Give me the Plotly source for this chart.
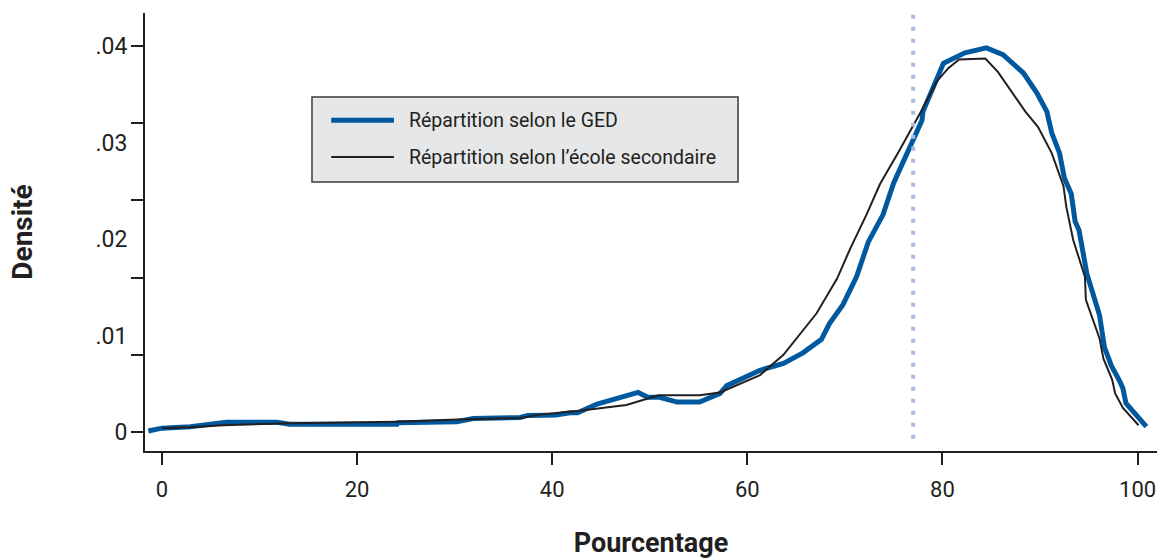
import plotly.graph_objects as go

# Densité des pourcentages : GED vs école secondaire
ged_x = [-1.4, 0, 2.9, 6.6, 11.8, 13.1, 24.1, 24.2, 30.2, 31.9, 36.7, 37.5, 40.4, 41.8, 42.6,
         44.6, 48.8, 49.8, 51.0, 52.8, 55.1, 57.2, 57.9, 60.3, 61.3, 63.7, 65.7, 67.6, 68.4,
         69.8, 71.2, 72.4, 73.9, 75.0, 76.6, 77.9, 78.0, 79.1, 80.1, 82.3, 84.5, 86.2, 88.3,
         89.7, 90.7, 91.2, 92.0, 92.5, 93.2, 93.6, 94.0, 94.8, 95.5, 96.1, 96.6, 97.3, 98.2,
         98.5, 98.8, 100.9]
ged_y = [0.0001, 0.0004, 0.00055, 0.0010, 0.0010, 0.0008, 0.0008, 0.00095, 0.00107, 0.0014,
         0.0015, 0.00172, 0.00176, 0.0020, 0.0020, 0.0029, 0.0041, 0.0036, 0.0036, 0.0031,
         0.0031, 0.0040, 0.0048, 0.0059, 0.0064, 0.0071, 0.0082, 0.0096, 0.0112, 0.0132,
         0.0161, 0.0197, 0.0225, 0.0258, 0.0293, 0.0323, 0.0332, 0.0360, 0.0382, 0.0393,
         0.0398, 0.0391, 0.0372, 0.0351, 0.0332, 0.0310, 0.0289, 0.0263, 0.0247, 0.0218,
         0.0209, 0.0164, 0.0140, 0.0121, 0.0088, 0.0069, 0.0052, 0.0045, 0.0030, 0.00055]

sec_x = [0, 2.9, 6.3, 13.1, 24.1, 30.2, 36.7, 38.7, 42.8, 47.6, 50.9, 55.1, 57.2, 61.3, 63.7,
         65.4, 67.1, 69.2, 70.5, 72.2, 73.6, 75.6, 77.9, 79.4, 80.6, 81.7, 84.4, 85.7, 87.1,
         88.5, 89.8, 91.2, 92.4, 92.7, 93.4, 94.6, 94.7, 96.1, 96.5, 97.4, 97.7, 98.5, 100.1]
sec_y = [0.0004, 0.0005, 0.0007, 0.0009, 0.00107, 0.0013, 0.00145, 0.0018, 0.0022, 0.0028,
         0.0038, 0.0038, 0.0041, 0.0059, 0.0080, 0.0102, 0.0123, 0.0159, 0.0189, 0.0225,
         0.0257, 0.0292, 0.0334, 0.0363, 0.0377, 0.0386, 0.0387, 0.0373, 0.0353, 0.0332,
         0.0316, 0.0289, 0.0255, 0.0233, 0.0199, 0.0161, 0.0137, 0.0097, 0.0076, 0.0054,
         0.0040, 0.0025, 0.0007]

seuil_x = 77  # ligne pointillée verticale

y_tick_marks = [0, 0.008, 0.016, 0.024, 0.032, 0.04]
y_label_vals = [0, 0.01, 0.02, 0.03, 0.04]
y_label_text = ["0", ".01", ".02", ".03", ".04"]
x_ticks = [0, 20, 40, 60, 80, 100]

legend_labels = ["Répartition selon le GED", "Répartition selon l’école secondaire"]

BLUE = "#00599e"
INK = "#231f20"
FONT = "Roboto, Liberation Sans, sans-serif"

x_range = [-1.74, 101.99]
y_range = [-0.00197, 0.04342]

fig = go.Figure()

fig.add_trace(go.Scatter(x=ged_x, y=ged_y, mode="lines", name=legend_labels[0],
                         line=dict(color=BLUE, width=5), showlegend=False))
fig.add_trace(go.Scatter(x=sec_x, y=sec_y, mode="lines", name=legend_labels[1],
                         line=dict(color=INK, width=2), showlegend=False))
# vertical dotted line, on the label axis
fig.add_trace(go.Scatter(x=[seuil_x, seuil_x], y=[-0.0007, y_range[1]], mode="lines",
                         yaxis="y2", line=dict(color="#a9bbdf", width=4, dash="4px,8px"),
                         showlegend=False, hoverinfo="skip"))

# hand-made legend box
fig.add_shape(type="rect", xref="paper", yref="paper", x0=0.165, x1=0.586, y0=0.614, y1=0.808,
              fillcolor="#e6e7e8", line=dict(color="#3a3a3a", width=1.5), layer="above")
fig.add_shape(type="line", xref="paper", yref="paper", x0=0.184, x1=0.246, y0=0.755, y1=0.755,
              line=dict(color=BLUE, width=5), layer="above")
fig.add_shape(type="line", xref="paper", yref="paper", x0=0.184, x1=0.246, y0=0.671, y1=0.671,
              line=dict(color=INK, width=2), layer="above")
for txt, yy in zip(legend_labels, [0.755, 0.671]):
    fig.add_annotation(text=txt, xref="paper", yref="paper", x=0.259, y=yy,
                       xanchor="left", yanchor="middle", showarrow=False,
                       font=dict(family=FONT, size=19.5, color=INK))

fig.update_layout(
    width=1159, height=559,
    margin=dict(l=145, r=2, t=13, b=108),
    plot_bgcolor="white", paper_bgcolor="white",
    font=dict(family=FONT, color=INK),
    xaxis=dict(range=x_range, tickvals=x_ticks, ticks="outside", ticklen=12, tickwidth=1.5,
               tickcolor=INK, showline=True, linecolor=INK, linewidth=1.5, showgrid=False,
               zeroline=False, tickfont=dict(size=22, color=INK), ticklabelstandoff=6,
               title=dict(text="<b>Pourcentage</b>", font=dict(size=27, color=INK), standoff=32)),
    yaxis=dict(range=y_range, tickvals=y_tick_marks, ticktext=[""] * len(y_tick_marks),
               ticks="outside", ticklen=12, tickwidth=1.5, tickcolor=INK, showline=True,
               linecolor=INK, linewidth=1.5, showgrid=False, zeroline=False,
               title=dict(text="<b>Densité</b>", font=dict(size=28, color=INK), standoff=88)),
    yaxis2=dict(range=y_range, overlaying="y", side="left", tickvals=y_label_vals,
                ticktext=y_label_text, ticks="outside", ticklen=12,
                tickcolor="rgba(0,0,0,0)", showline=False, showgrid=False, zeroline=False,
                tickfont=dict(size=23, color=INK)),
)

fig.write_html("out.html", config={"displayModeBar": False},
               post_script="document.body.style.margin='0';")
